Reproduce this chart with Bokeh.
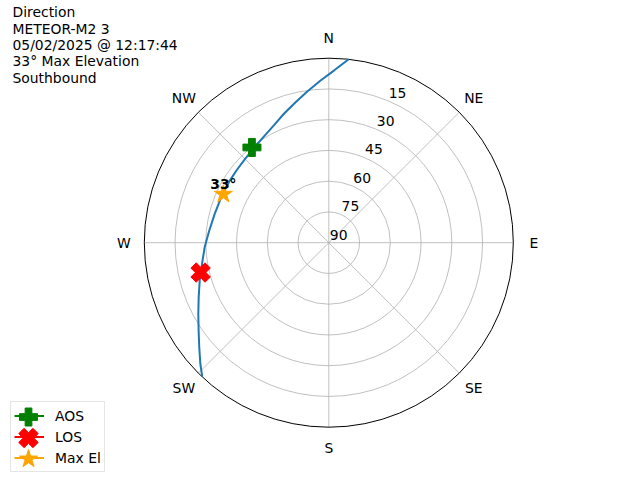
import numpy as np
from bokeh.plotting import figure
from bokeh.models import Label, Legend, LegendItem
from bokeh.embed import file_html
from bokeh.resources import INLINE
from bokeh.core.properties import value

# ---- data ----
title_lines = ["Direction", "METEOR-M2 3", "05/02/2025 @ 12:17:44",
               "33° Max Elevation", "Southbound"]
compass_labels = ["N", "NE", "E", "SE", "S", "SW", "W", "NW"]
compass_az = [0, 45, 90, 135, 180, 225, 270, 315]
ring_el = [75, 60, 45, 30, 15]
ring_labels = ["15", "30", "45", "60", "75", "90"]
ring_label_el = [15, 30, 45, 60, 75, 90]

track_az = [6.2, 1.7, 357.1, 351.9, 346.7, 340.8, 334.9, 329.4, 323.0,
            315.2, 308.3, 301.2, 293.5, 284.3, 275.8, 267.9, 260.5, 253.7,
            247.3, 241.4, 236.0, 231.1, 226.7, 223.3]
track_el = [0.0, 6.0, 10.8, 15.5, 19.6, 23.4, 26.8, 29.0, 30.8,
            32.2, 32.8, 33.0, 33.0, 32.6, 31.4, 29.4, 27.3, 24.4,
            21.2, 17.5, 13.4, 8.8, 3.9, 0.0]
aos_az, aos_el = 321.1, 30.3
los_az, los_el = 256.9, 25.8
max_az, max_el = 294.7, 33.4
max_label = "33°"
legend_labels = ["AOS", "LOS", "Max El"]
legend_colors = ["green", "red", "orange"]

FONT = "DejaVu Sans"
FS = "13.9px"


def to_xy(az, el):
    r = 90.0 - np.asarray(el, dtype=float)
    a = np.radians(np.asarray(az, dtype=float))
    return r * np.sin(a), r * np.cos(a)


# ---- layout ----
W, H = 640, 480
k = 184.5 / 90.0          # px per unit
cx, cy = 328.3, 242.2     # centre (px from top-left)
p = figure(width=W, height=H, output_backend="svg", toolbar_location=None,
           x_range=(-cx / k, (W - cx) / k), y_range=(-(H - cy) / k, cy / k),
           min_border=0, outline_line_color=None)
p.axis.visible = False
p.grid.visible = False
p.background_fill_color = "white"


def px_to_data(px, py):
    return (px - cx) / k, (cy - py) / k


# grid circles
p.circle(x=[0] * len(ring_el), y=[0] * len(ring_el),
         radius=[90 - e for e in ring_el], fill_color=None,
         line_color="#b0b0b0", line_width=0.8)
# spokes
sx, sy = to_xy(compass_az, [0] * len(compass_az))
p.segment(x0=[0] * len(sx), y0=[0] * len(sy), x1=sx, y1=sy,
          line_color="#b0b0b0", line_width=0.8)
# outer circle
p.circle(x=[0], y=[0], radius=[90], fill_color=None,
         line_color="black", line_width=1.0)

# radial labels
rx, ry = to_xy([22.5] * len(ring_label_el), ring_label_el)
p.text(x=rx, y=ry, text=ring_labels, text_font=value(FONT),
       text_font_size=FS, text_align="left",
       text_baseline="middle", x_offset=1, y_offset=-8, text_color="black")

# compass labels
kx, ky = to_xy(compass_az, [-10] * len(compass_az))
p.text(x=kx, y=ky, text=compass_labels, text_font=value(FONT),
       text_font_size=FS, text_align="center",
       text_baseline="middle", text_color="black")

# track
tx, ty = to_xy(track_az, track_el)
p.line(tx, ty, line_color="#1f77b4", line_width=2)

ax_, ay_ = to_xy([aos_az], [aos_el])
lx_, ly_ = to_xy([los_az], [los_el])
mx_, my_ = to_xy([max_az], [max_el])

aos_l = p.line(ax_, ay_, line_color="green", line_width=2)
p.scatter(ax_, ay_, marker="plus", size=18, fill_color="green",
          line_color="green")
los_l = p.line(lx_, ly_, line_color="red", line_width=2)
p.scatter(lx_, ly_, marker="plus", size=20, angle=np.pi / 4,
          fill_color="red", line_color="red")
max_l = p.line(mx_, my_, line_color="orange", line_width=2)
p.scatter(mx_, my_, marker="star", size=19, fill_color="orange",
          line_color="orange")

p.text(x=mx_, y=my_, text=[max_label], text_font=value(FONT),
       text_font_size=FS, text_font_style="bold", text_align="center",
       text_baseline="middle", y_offset=-10.5, text_color="black")

# title text
for i, t in enumerate(title_lines):
    mid = 11.9 + 16.3 * i
    p.add_layout(Label(x=12, y=H - mid, x_units="screen", y_units="screen",
                       text=t, text_font=FONT, text_font_size=FS,
                       text_baseline="middle", text_color="black"))

# legend
LPAD, LROW, LX, LY = 3, 21, 10, 8
legend = Legend(items=[LegendItem(label=legend_labels[0], renderers=[aos_l]),
                       LegendItem(label=legend_labels[1], renderers=[los_l]),
                       LegendItem(label=legend_labels[2], renderers=[max_l])],
                location=(LX, LY), margin=0, padding=LPAD, spacing=0,
                glyph_width=30, glyph_height=LROW, label_height=LROW,
                label_standoff=11, label_text_font=FONT,
                label_text_font_size=FS, label_text_color="black",
                border_line_color="#cccccc", border_line_width=1,
                background_fill_alpha=0.0)
p.add_layout(legend)

# legend key markers (under the transparent legend box)
top = H - LY - (2 * LPAD + 3 * LROW)
gx = LX + LPAD + 15
keys = [px_to_data(gx, top + LPAD + LROW * (i + 0.5)) for i in range(3)]
p.scatter([keys[0][0]], [keys[0][1]], marker="plus", size=18,
          fill_color=legend_colors[0], line_color=legend_colors[0])
p.scatter([keys[1][0]], [keys[1][1]], marker="plus", size=20, angle=np.pi / 4,
          fill_color=legend_colors[1], line_color=legend_colors[1])
p.scatter([keys[2][0]], [keys[2][1]], marker="star", size=19,
          fill_color=legend_colors[2], line_color=legend_colors[2])

open("out.html", "w").write(file_html(p, INLINE))
